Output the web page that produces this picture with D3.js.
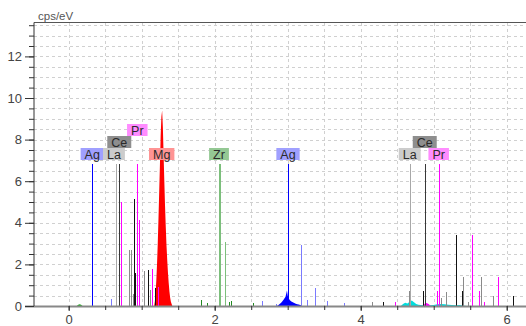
<!DOCTYPE html>
<html>
<head>
<meta charset="utf-8">
<script src="https://cdn.jsdelivr.net/npm/d3@7"></script>
<style>
  body { margin: 0; background: #fff; }
  svg { display: block; font-family: "Liberation Sans", Arial, sans-serif; }
</style>
</head>
<body>
<svg id="chart" width="526" height="326"></svg>
<script>
// element line markers (energy in keV, height in cps/eV)
const agKeV = [0.323, 0.575, 2.648, 2.836, 3.004, 3.178, 3.264, 3.374, 3.538, 3.767];
const agCps = [6.82, 0.35, 0.25, 0.1, 6.82, 2.93, 0.3, 0.85, 0.24, 0.15];
const laKeV = [0.648, 0.830, 0.850, 0.877, 1.036, 1.118, 4.151, 4.662, 4.671, 5.096, 5.168, 5.405, 5.466, 5.644, 5.816];
const laCps = [6.82, 2.7, 2.7, 0.6, 1.7, 0.75, 0.2, 0.72, 6.82, 0.38, 0.69, 1.38, 0.2, 1.41, 0.48];
const ceKeV = [0.693, 0.899, 0.912, 1.090, 1.182, 4.310, 4.858, 4.877, 5.301, 5.392, 6.090];
const ceCps = [6.82, 5.15, 1.6, 1.75, 0.85, 0.2, 0.72, 6.82, 3.41, 0.7, 0.48];
const prKeV = [0.721, 0.940, 0.959, 1.145, 1.223, 4.470, 5.049, 5.068, 5.529, 5.621, 5.693, 5.885];
const prCps = [5.0, 6.82, 4.15, 1.8, 0.9, 0.2, 0.72, 6.82, 3.41, 0.7, 0.2, 1.41];
const zrKeV = [1.808, 1.890, 2.059, 2.141, 2.196, 2.227, 2.525];
const zrCps = [0.3, 0.15, 6.82, 3.06, 0.2, 0.25, 0.15];
const mgKeV = [1.274];
const mgCps = [6.82];

// measured spectrum pieces
const mgSpecKeV = [1.17, 1.18, 1.19, 1.20, 1.21, 1.22, 1.23, 1.24, 1.25, 1.26, 1.27, 1.28, 1.29, 1.30, 1.31, 1.32, 1.33, 1.34, 1.35, 1.36, 1.37, 1.38, 1.39, 1.40, 1.41, 1.42];
const mgSpecCps = [0, 0.2, 0.6, 1.2, 2.0, 3.0, 4.2, 5.5, 6.8, 8.2, 9.1, 9.4, 8.6, 7.3, 6.0, 4.8, 3.8, 2.9, 2.2, 1.6, 1.1, 0.7, 0.4, 0.2, 0.1, 0];
const agSpecKeV = [2.85, 2.87, 2.89, 2.91, 2.93, 2.95, 2.97, 2.99, 3.00, 3.01, 3.03, 3.05, 3.07, 3.09, 3.11, 3.13, 3.15, 3.17, 3.20];
const agSpecCps = [0, 0.04, 0.1, 0.16, 0.24, 0.34, 0.45, 0.74, 0.5, 0.38, 0.28, 0.22, 0.18, 0.14, 0.11, 0.09, 0.07, 0.05, 0];
const cySpecKeV = [4.55, 4.58, 4.61, 4.64, 4.67, 4.70, 4.73, 4.76, 4.79, 4.82, 4.85, 4.90, 4.95, 5.00, 5.05, 5.10, 5.15, 5.20, 5.25, 5.30, 5.35, 5.40, 5.45];
const cySpecCps = [0, 0.1, 0.16, 0.12, 0.2, 0.26, 0.18, 0.1, 0.06, 0.05, 0.04, 0.03, 0.04, 0.05, 0.08, 0.1, 0.08, 0.06, 0.05, 0.04, 0.05, 0.03, 0];
const prSpecKeV = [4.85, 4.88, 4.90, 4.93, 4.96];
const prSpecCps = [0, 0.12, 0.15, 0.1, 0];
const grSpecKeV = [0.11, 0.13, 0.15, 0.17, 0.19];
const grSpecCps = [0, 0.06, 0.08, 0.06, 0];

// element labels
const labelEl = ['Ag', 'La', 'Ce', 'Pr', 'Mg', 'Zr', 'Ag', 'La', 'Ce', 'Pr'];
const labelKeV = [0.323, 0.620, 0.693, 0.940, 1.274, 2.059, 3.004, 4.671, 4.877, 5.068];
const labelRow = [0, 0, 1, 2, 0, 0, 0, 0, 1, 0];

const yMajor = [0, 2, 4, 6, 8, 10, 12];
const xMajor = [0, 2, 4, 6];

const svg = d3.select('#chart');
const pL = 34, pR = 526, pT = 22.5, pB = 306;
const x = d3.scaleLinear().domain([-0.475, 6.264]).range([pL, pR]);
const y = d3.scaleLinear().domain([0, 13.63]).range([pB, pT]);

const lineColor = {
  Ag: ['#0000ff', '#7a7aff'],
  La: ['#a8a8a8', '#8a8a8a'],
  Ce: ['#383838', '#111111'],
  Pr: ['#ff00ff', '#ff00ff'],
  Zr: ['#7cbf7c', '#7cbf7c'],
  Mg: ['#ff0000', '#ff0000']
};
const boxColor = { Ag: '#a0a0ff', La: '#cccccc', Ce: '#8e8e8e', Pr: '#ff8cff', Mg: '#ff9494', Zr: '#94c894' };

// grid
const grid = svg.append('g').attr('stroke', '#d0d0d0').attr('stroke-dasharray', '3,3').attr('shape-rendering', 'crispEdges');
grid.selectAll('line.h').data(d3.range(0.5, 13.51, 0.5)).join('line').attr('class', 'h')
  .attr('x1', pL).attr('x2', pR)
  .attr('y1', d => Math.round(y(d)) + 0.5).attr('y2', d => Math.round(y(d)) + 0.5);
grid.selectAll('line.v').data(d3.range(0, 6.01, 0.5)).join('line').attr('class', 'v')
  .attr('y1', pT).attr('y2', pB)
  .attr('x1', d => Math.round(x(d)) + 0.5).attr('x2', d => Math.round(x(d)) + 0.5);

// spectra areas
const area = d3.area().x(d => x(d[0])).y0(y(0)).y1(d => y(d[1]));
const spectra = [
  [d3.zip(grSpecKeV, grSpecCps), '#22aa22'],
  [d3.zip(cySpecKeV, cySpecCps), '#00dddd'],
  [d3.zip(prSpecKeV, prSpecCps), '#ff00ff'],
  [d3.zip(agSpecKeV, agSpecCps), '#0000ff'],
  [d3.zip(mgSpecKeV, mgSpecCps), '#ff0000']
];
svg.append('g').selectAll('path').data(spectra).join('path')
  .attr('d', d => area(d[0])).attr('fill', d => d[1]);

// marker lines
const lines = [];
const add = (el, ks, cs) => ks.forEach((k, i) => lines.push({ el, k, c: cs[i], main: cs[i] > 6.8 }));
add('La', laKeV, laCps);
add('Ce', ceKeV, ceCps);
add('Pr', prKeV, prCps);
add('Zr', zrKeV, zrCps);
add('Ag', agKeV, agCps);
add('Mg', mgKeV, mgCps);
svg.append('g').attr('shape-rendering', 'crispEdges').selectAll('line').data(lines).join('line')
  .attr('x1', d => Math.round(x(d.k)) + 0.5).attr('x2', d => Math.round(x(d.k)) + 0.5)
  .attr('y1', y(0)).attr('y2', d => y(d.c))
  .attr('stroke', d => {
    if (d.el === 'Zr' && d.c < 1) return '#228b22';
    return lineColor[d.el][d.main ? 0 : 1];
  })
  .attr('stroke-width', d => (d.el === 'Zr' && d.main) ? 2 : 1);

// labels
const rowY = [148, 136, 124];
const lab = svg.append('g').selectAll('g').data(labelEl.map((e, i) => ({ e, k: labelKeV[i], r: labelRow[i] }))).join('g');
lab.append('text')
  .attr('x', d => x(d.k)).attr('y', d => rowY[d.r] + 10.5)
  .attr('text-anchor', 'middle').attr('font-size', 12.5).attr('fill', '#2a2a2a')
  .text(d => d.e);
lab.each(function (d) {
  const g = d3.select(this);
  const w = g.select('text').node().getComputedTextLength() + 8;
  g.insert('rect', 'text')
    .attr('x', x(d.k) - w / 2).attr('y', rowY[d.r])
    .attr('width', w).attr('height', 12)
    .attr('fill', boxColor[d.e]);
});

// frame and axes
svg.append('line').attr('x1', pL).attr('x2', pR).attr('y1', pT).attr('y2', pT)
  .attr('stroke', '#555').attr('shape-rendering', 'crispEdges');
svg.append('line').attr('x1', 25).attr('x2', pR).attr('y1', pB + 0.5).attr('y2', pB + 0.5)
  .attr('stroke', '#888').attr('stroke-width', 2);

const yAxisMinor = d3.axisLeft(y).tickValues(d3.range(0, 13.51, 0.5)).tickSize(5).tickFormat('');
const yAxis = d3.axisLeft(y).tickValues(yMajor).tickSize(9).tickPadding(3).tickFormat(d3.format('d'));
const gy1 = svg.append('g').attr('transform', `translate(${pL},0)`).call(yAxisMinor);
const gy2 = svg.append('g').attr('transform', `translate(${pL},0)`).call(yAxis);
const xAxisMinor = d3.axisBottom(x).tickValues(d3.range(0, 6.01, 0.5)).tickSize(4).tickFormat('');
const xAxis = d3.axisBottom(x).tickValues(xMajor).tickSize(5).tickPadding(4).tickFormat(d3.format('d'));
const gx1 = svg.append('g').attr('transform', `translate(0,${pB})`).call(xAxisMinor);
const gx2 = svg.append('g').attr('transform', `translate(0,${pB})`).call(xAxis);
[gy1, gy2, gx1, gx2].forEach(g => {
  g.selectAll('.tick line').attr('stroke', '#333');
  g.selectAll('text').attr('font-size', 13).attr('fill', '#444').attr('font-family', '"Liberation Sans", Arial, sans-serif');
});
gy1.select('.domain').attr('stroke', '#333').attr('d', `M0,${pT}V${pB}`);
gy2.select('.domain').remove();
gx1.select('.domain').remove();
gx2.select('.domain').remove();

svg.append('text').attr('x', 38).attr('y', 20).attr('font-size', 11.5).attr('fill', '#555').text('cps/eV');
</script>
</body>
</html>
